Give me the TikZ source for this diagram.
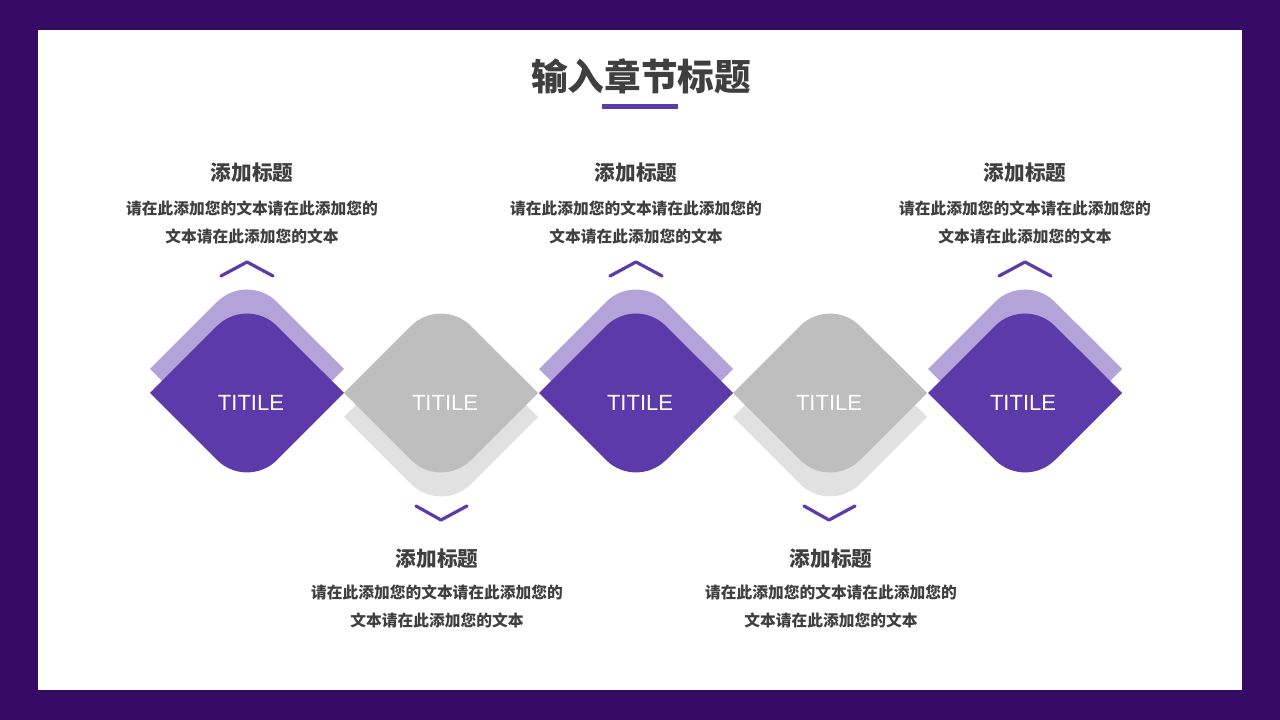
\documentclass[tikz,border=0pt]{standalone}
\usepackage{fontspec}
\setmainfont{Liberation Sans}
\newfontfamily\cjk{Noto Sans CJK SC}
\definecolor{framec}{HTML}{360B66}
\definecolor{pmain}{HTML}{5C3AAA}
\definecolor{plight}{HTML}{B4A3D8}
\definecolor{gmain}{HTML}{BEBEBE}
\definecolor{glight}{HTML}{E1E1E1}
\definecolor{txt}{HTML}{3F3F3F}
\tikzset{
  rdiamond/.pic={\fill[pic actions] (-97,0) -- (-30,67) arc[start angle=135,end angle=45,radius=42.4] -- (97,0) -- (30,-67) arc[start angle=-45,end angle=-135,radius=42.4] -- cycle;},
  chev/.style={draw=pmain,line width=2.4pt,line cap=round,line join=round},
  heading/.style={font=\cjk\bfseries\fontsize{27.5}{30}\selectfont,text=txt},
  sub/.style={font=\cjk\bfseries\fontsize{15.5}{18}\selectfont,text=txt},
  body/.style={font=\cjk\bfseries\fontsize{11.8}{21}\selectfont,text=txt,align=center},
  tlabel/.style={font=\fontsize{16.5}{18}\selectfont,text=white}
}
\begin{document}
\begin{tikzpicture}[x=0.75pt,y=0.75pt]
\useasboundingbox (0,0) rectangle (1280,720);
\fill[framec] (0,0) rectangle (1280,720);
\fill[white] (38,30) rectangle (1242,690);
% heading
\node[heading] (head) at (641,644) {输入章节标题};
\fill[pmain] (602,611) rectangle (678,616);
% back shapes
\pic[fill=plight] at (247,351) {rdiamond};
\pic[fill=plight] at (636,351) {rdiamond};
\pic[fill=plight] at (1025,351) {rdiamond};
\pic[fill=glight] at (441,303) {rdiamond};
\pic[fill=glight] at (830,303) {rdiamond};
% front shapes
\pic[fill=pmain] at (247,327) {rdiamond};
\pic[fill=gmain] at (441,327) {rdiamond};
\pic[fill=pmain] at (636,327) {rdiamond};
\pic[fill=gmain] at (830,327) {rdiamond};
\pic[fill=pmain] at (1025,327) {rdiamond};
\node[tlabel] (t1) at (251,317) {TITILE};
\node[tlabel] (t2) at (445,317) {TITILE};
\node[tlabel] (t3) at (640,317) {TITILE};
\node[tlabel] (t4) at (829,317) {TITILE};
\node[tlabel] (t5) at (1023,317) {TITILE};
% chevrons
\draw[chev] (221,444) -- (247,458) -- (273,444);
\draw[chev] (610,444) -- (636,458) -- (662,444);
\draw[chev] (999,444) -- (1025,458) -- (1051,444);
\draw[chev] (416,214) -- (441,200) -- (467,214);
\draw[chev] (804,214) -- (829,200) -- (855,214);
% texts
\node[sub] (s1) at (252,547) {添加标题};
\node[body] (b1) at (252,498) {请在此添加您的文本请在此添加您的\\文本请在此添加您的文本};
\node[sub] (s3) at (636,547) {添加标题};
\node[body] (b3) at (636,498) {请在此添加您的文本请在此添加您的\\文本请在此添加您的文本};
\node[sub] (s5) at (1025,547) {添加标题};
\node[body] (b5) at (1025,498) {请在此添加您的文本请在此添加您的\\文本请在此添加您的文本};
\node[sub] (s2) at (437,161) {添加标题};
\node[body] (b2) at (437,114) {请在此添加您的文本请在此添加您的\\文本请在此添加您的文本};
\node[sub] (s4) at (831,161) {添加标题};
\node[body] (b4) at (831,114) {请在此添加您的文本请在此添加您的\\文本请在此添加您的文本};
\end{tikzpicture}
\end{document}
